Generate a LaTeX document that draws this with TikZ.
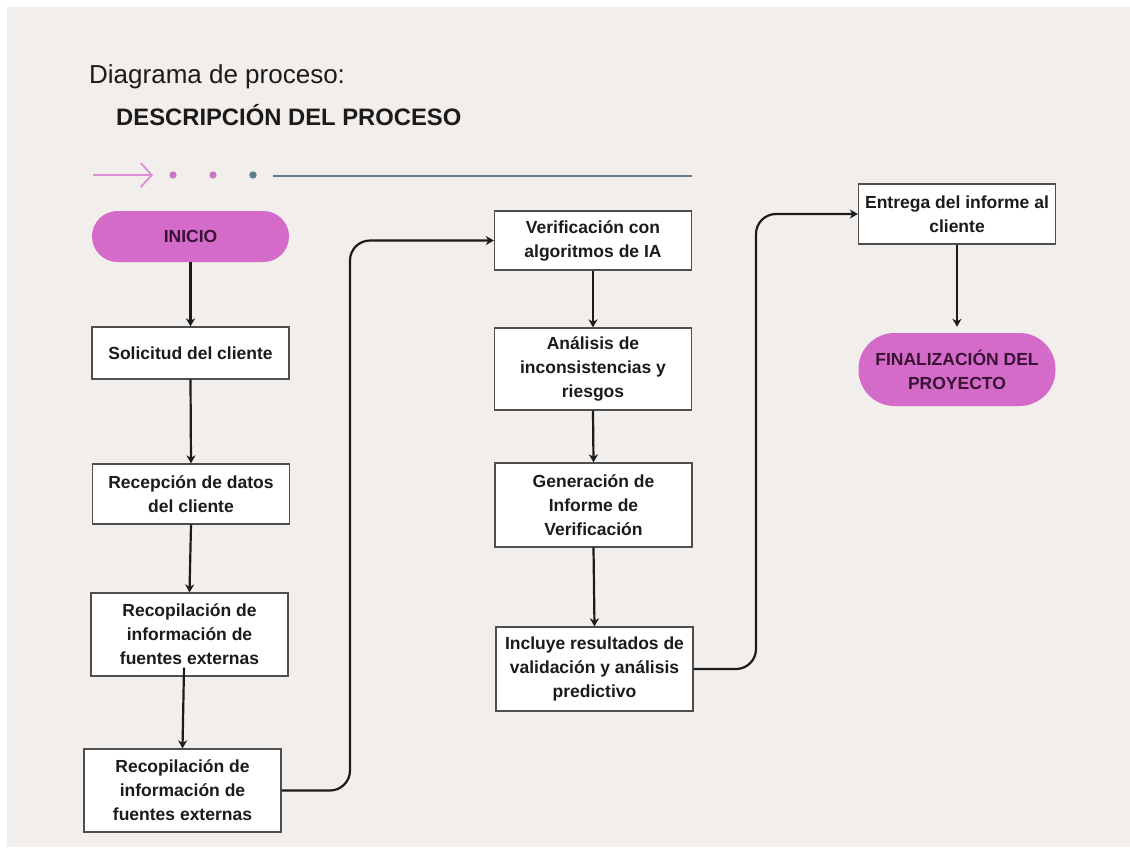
\documentclass[tikz,border=0pt]{standalone}
\usepackage{fontspec}
\setmainfont{Liberation Sans}
\usetikzlibrary{arrows.meta,calc}

\definecolor{paper}{HTML}{F2EEEB}
\definecolor{pillfill}{HTML}{D46BC9}
\definecolor{pillink}{HTML}{3A1236}
\definecolor{ink}{HTML}{1B1B1B}
\definecolor{frame}{HTML}{4E4E4E}
\definecolor{rosa}{HTML}{DB8FD5}
\definecolor{dotrosa}{HTML}{C979C6}
\definecolor{slate}{HTML}{5A808C}

\tikzset{
  stepbox/.style={draw=frame, line width=1.3pt, fill=white, minimum width=197pt,
    inner sep=0pt, align=center, text=ink,
    font=\bfseries\fontsize{17.5}{24}\selectfont},
  pillnode/.style={fill=pillfill, minimum width=197pt, inner sep=0pt,
    align=center, text=pillink, font=\bfseries\fontsize{17.5}{24}\selectfont},
  flow/.style={draw=ink, line width=2.2pt,
    -{Stealth[length=8pt,width=9pt,inset=2.5pt]}},
}

\begin{document}
\begin{tikzpicture}[x=1pt,y=-1pt]
  \useasboundingbox (0,0) rectangle (1130,847);
  \fill[white] (0,0) rectangle (1130,847);
  \fill[paper] (7,7) rectangle (1130,847);

  % headings
  \node[anchor=base west, inner sep=0pt, text=ink,
        font=\fontsize{26}{30}\selectfont] (title) at (89,83) {Diagrama de proceso:};
  \node[anchor=base west, inner sep=0pt, text=ink,
        font=\bfseries\fontsize{23.8}{28}\selectfont] (subtitle) at (116,125) {DESCRIPCIÓN DEL PROCESO};

  % decorative rule
  \coordinate (ra) at (93,175);
  \coordinate (rb) at (153,175);
  \draw[rosa, line width=1.8pt, -{Straight Barb[length=11pt,width=24pt,line width=1.8pt]}] (ra) -- (rb);
  \fill[dotrosa] (173,175) circle (3.7);
  \fill[dotrosa] (213,175) circle (3.7);
  \fill[slate] (253,175) circle (3.7);
  \coordinate (la) at (273,176);
  \coordinate (lb) at (692,176);
  \draw[slate, line width=2.2pt] (la) -- (lb);

  % first column
  \node[pillnode, minimum height=51pt, rounded corners=25.5pt] (inicio) at (190.5,236.5) {INICIO};
  \node[stepbox, minimum height=52pt] (sol) at (190.5,353) {Solicitud del cliente};
  \node[stepbox, minimum height=60pt] (rec) at (191,494) {Recepción de datos\\del cliente};
  \node[stepbox, minimum height=83pt] (rec1) at (189.5,634.5) {Recopilación de\\información de\\fuentes externas};
  \node[stepbox, minimum height=83pt] (rec2) at (182.5,790.5) {Recopilación de\\información de\\fuentes externas};

  % second column
  \node[stepbox, minimum height=59pt] (ver) at (593,240.5) {Verificación con\\algoritmos de IA};
  \node[stepbox, minimum height=82pt] (ana) at (593,369) {Análisis de\\inconsistencias y\\riesgos};
  \node[stepbox, minimum height=84pt] (gen) at (593.5,505) {Generación de\\Informe de\\Verificación};
  \node[stepbox, minimum height=84pt] (inc) at (594.5,669) {Incluye resultados de\\validación y análisis\\predictivo};

  % third column
  \node[stepbox, minimum height=60pt] (ent) at (957,214) {Entrega del informe al\\cliente};
  \node[pillnode, minimum height=73pt, rounded corners=36pt] (fin) at (957,369.5) {FINALIZACIÓN DEL\\PROYECTO};

  % connectors
  \draw[flow] (inicio.south) -- (sol.north);
  \draw[flow] (sol.south) -- (rec.north);
  \draw[flow] (rec.south) -- (rec1.north);
  \draw[flow] ($(rec1.south)+(-5.5,-9)$) -- (rec2.north);

  \coordinate (bendA) at (350,0);
  \draw[flow, rounded corners=20pt] (rec2.east) -- (rec2.east -| bendA) -- (bendA |- ver.west) -- (ver.west);

  \draw[flow] (ver.south) -- (ana.north);
  \draw[flow] (ana.south) -- (gen.north);
  \draw[flow] (gen.south) -- (inc.north);

  \coordinate (bendB) at (756,0);
  \draw[flow, rounded corners=20pt] (inc.east) -- (inc.east -| bendB) -- (bendB |- ent.west) -- (ent.west);

  \draw[flow, shorten >=6pt] (ent.south) -- (fin.north);
\end{tikzpicture}
\end{document}
